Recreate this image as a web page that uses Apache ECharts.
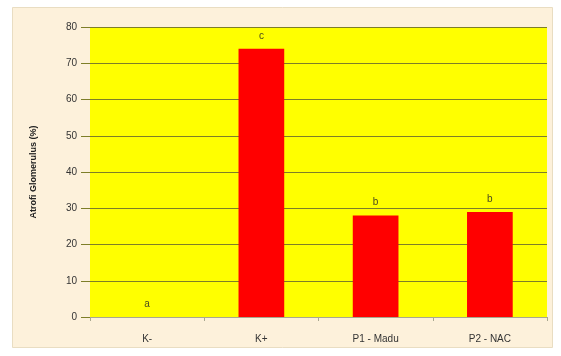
<!DOCTYPE html>
<html>
<head>
<meta charset="utf-8">
<script src="https://cdn.jsdelivr.net/npm/echarts@6/dist/echarts.min.js"></script>
<style>
html,body{margin:0;padding:0;background:#ffffff;}
#c{width:561px;height:356px;}
</style>
</head>
<body>
<div id="c"></div>
<script>
const categories = ['K-', 'K+', 'P1 - Madu', 'P2 - NAC'];
const values = [0, 74, 28, 29];
const letters = ['a', 'c', 'b', 'b'];
const yTicks = { min: 0, max: 80, interval: 10 };
const yTitle = 'Atrofi Glomerulus (%)';

const chart = echarts.init(document.getElementById('c'));
chart.setOption({
  animation: false,
  graphic: [{
    type: 'rect', z: -10, silent: true,
    shape: { x: 12.5, y: 7.5, width: 540, height: 340 },
    style: { fill: '#FDF1DB', stroke: '#E9DDC2', lineWidth: 1 }
  }],
  grid: { left: 90, right: 14, top: 27, bottom: 39, show: true, backgroundColor: '#FFFF00', borderWidth: 0 },
  xAxis: {
    type: 'category',
    data: categories,
    axisLine: { lineStyle: { color: '#A8A890', width: 1 } },
    axisTick: { show: true, length: 4, inside: false, lineStyle: { color: '#A8A890' } },
    axisLabel: { color: '#333333', fontSize: 10, margin: 17, fontFamily: 'Liberation Sans' }
  },
  yAxis: {
    type: 'value',
    min: yTicks.min, max: yTicks.max, interval: yTicks.interval,
    name: yTitle,
    nameLocation: 'middle',
    nameGap: 52,
    nameTextStyle: { color: '#222222', fontSize: 9, fontWeight: 'bold', fontFamily: 'Liberation Sans' },
    axisLine: { show: false },
    axisTick: { show: true, length: 9, lineStyle: { color: '#7E7E28' } },
    axisLabel: { color: '#333333', fontSize: 10, margin: 13, fontFamily: 'Liberation Sans' },
    splitLine: { show: true, lineStyle: { color: '#7E7E28', width: 1 } }
  },
  series: [{
    type: 'bar',
    data: values,
    barWidth: '40%',
    itemStyle: { color: '#FF0000', borderWidth: 0 },
    label: {
      show: true,
      position: 'top',
      distance: 8,
      color: '#4A4A20',
      fontSize: 10,
      fontFamily: 'Liberation Sans',
      formatter: p => letters[p.dataIndex]
    }
  }]
});
</script>
</body>
</html>
